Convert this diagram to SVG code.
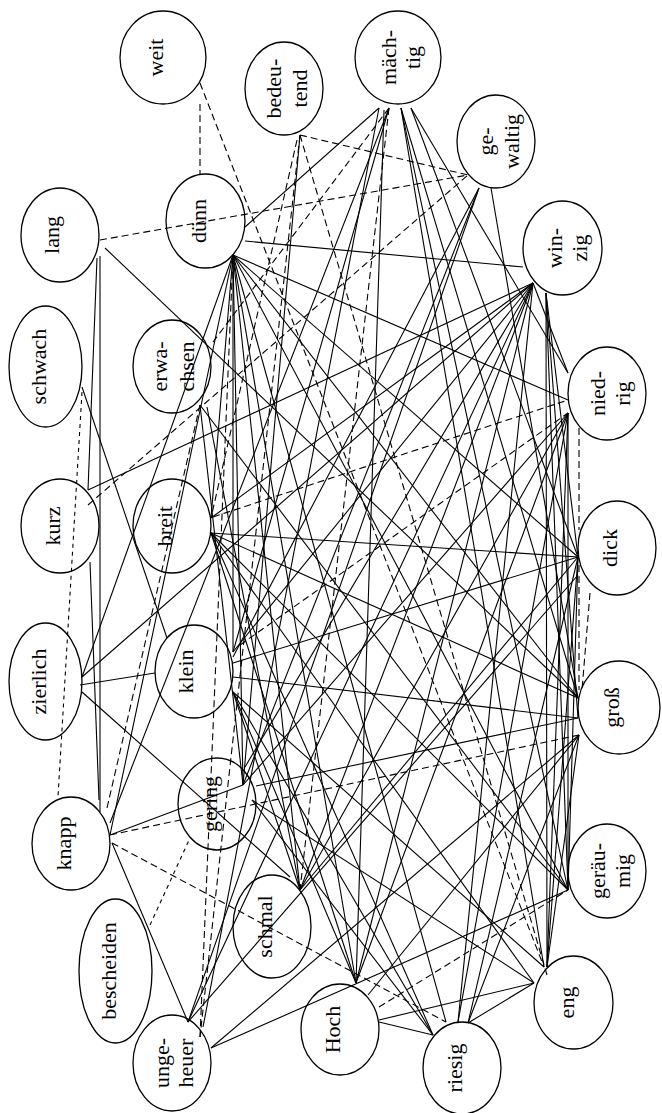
<svg xmlns="http://www.w3.org/2000/svg" width="662" height="1113" viewBox="0 0 662 1113">
<style>
.n{fill:none;stroke:#000;stroke-width:1.3}
.t{font-family:"Liberation Serif","Times New Roman",serif;font-size:22px;fill:#000;text-anchor:middle}
.s{stroke:#000;stroke-width:1.1;fill:none}
.d{stroke:#000;stroke-width:1.1;fill:none;stroke-dasharray:7,4}
.o{stroke:#000;stroke-width:1.1;fill:none;stroke-dasharray:4,4}
</style>
<rect width="662" height="1113" fill="#fff"/>
<g id="edges">
<line class="d" x1="200" y1="104" x2="200" y2="174"/>
<line class="d" x1="200" y1="83" x2="544" y2="967"/>
<line class="d" x1="300" y1="135" x2="468" y2="175"/>
<line class="d" x1="100" y1="240" x2="468" y2="175"/>
<line class="d" x1="88" y1="505" x2="468" y2="175"/>
<line class="d" x1="389" y1="108" x2="213" y2="342"/>
<line class="o" x1="82" y1="392" x2="58" y2="797"/>
<line class="d" x1="300" y1="135" x2="200" y2="1037"/>
<line class="d" x1="297" y1="140" x2="211" y2="518"/>
<line class="d" x1="213" y1="517" x2="568" y2="400"/>
<line class="d" x1="240" y1="645" x2="568" y2="413"/>
<line class="d" x1="579" y1="428" x2="579" y2="530"/>
<line class="d" x1="579" y1="565" x2="579" y2="690"/>
<line class="d" x1="590" y1="593" x2="582" y2="690"/>
<line class="d" x1="110" y1="835" x2="579" y2="735"/>
<line class="o" x1="150" y1="925" x2="190" y2="838"/>
<line class="d" x1="379" y1="1007" x2="568" y2="890"/>
<line class="d" x1="389" y1="108" x2="300" y2="890"/>
<line class="d" x1="107" y1="808" x2="200" y2="405"/>
<line class="d" x1="112" y1="843" x2="446" y2="1022"/>
<line class="d" x1="200" y1="1037" x2="233" y2="255"/>
<line class="d" x1="300" y1="135" x2="547" y2="975"/>

<line class="s" x1="100" y1="256" x2="100" y2="812"/>
<line class="s" x1="97" y1="258" x2="88" y2="490"/>
<line class="s" x1="90" y1="562" x2="99" y2="800"/>
<line class="s" x1="105" y1="248" x2="578" y2="698"/>
<line class="s" x1="82" y1="387" x2="167" y2="638"/>
<line class="s" x1="80" y1="685" x2="155" y2="673"/>
<line class="s" x1="82" y1="677" x2="233" y2="255"/>
<line class="s" x1="82" y1="677" x2="533" y2="283"/>
<line class="s" x1="82" y1="692" x2="290" y2="877"/>
<line class="s" x1="110" y1="835" x2="243" y2="785"/>
<line class="s" x1="112" y1="843" x2="188" y2="1022"/>
<line class="s" x1="110" y1="823" x2="389" y2="108"/>
<line class="s" x1="88" y1="490" x2="533" y2="283"/>

<line class="s" x1="379" y1="108" x2="245" y2="227"/>
<line class="s" x1="245" y1="241" x2="523" y2="267"/>
<line class="s" x1="300" y1="135" x2="243" y2="785"/>

<line class="s" x1="389" y1="108" x2="233" y2="652"/>
<line class="s" x1="384" y1="110" x2="356" y2="983"/>
<line class="s" x1="401" y1="108" x2="544" y2="967"/>
<line class="s" x1="401" y1="108" x2="568" y2="890"/>
<line class="s" x1="401" y1="108" x2="578" y2="698"/>
<line class="s" x1="411" y1="108" x2="578" y2="557"/>
<line class="s" x1="411" y1="108" x2="568" y2="373"/>
<line class="s" x1="379" y1="108" x2="203" y2="1027"/>

<line class="s" x1="479" y1="188" x2="233" y2="657"/>
<line class="s" x1="479" y1="188" x2="243" y2="785"/>
<line class="s" x1="479" y1="188" x2="188" y2="1022"/>
<line class="s" x1="491" y1="188" x2="578" y2="698"/>

<line class="s" x1="533" y1="283" x2="211" y2="518"/>
<line class="s" x1="533" y1="283" x2="233" y2="652"/>
<line class="s" x1="533" y1="283" x2="245" y2="767"/>
<line class="s" x1="533" y1="283" x2="188" y2="1022"/>
<line class="s" x1="533" y1="283" x2="300" y2="890"/>
<line class="s" x1="533" y1="283" x2="356" y2="983"/>
<line class="s" x1="533" y1="283" x2="458" y2="1022"/>
<line class="s" x1="533" y1="283" x2="568" y2="373"/>
<line class="s" x1="546" y1="293" x2="547" y2="967"/>
<line class="s" x1="546" y1="293" x2="568" y2="890"/>
<line class="s" x1="546" y1="293" x2="578" y2="718"/>
<line class="s" x1="546" y1="293" x2="578" y2="557"/>

<line class="s" x1="200" y1="405" x2="568" y2="890"/>
<line class="s" x1="200" y1="405" x2="243" y2="785"/>
<line class="s" x1="207" y1="407" x2="300" y2="890"/>

<line class="s" x1="233" y1="255" x2="110" y2="835"/>
<line class="s" x1="233" y1="255" x2="211" y2="518"/>
<line class="s" x1="233" y1="255" x2="233" y2="652"/>
<line class="s" x1="233" y1="255" x2="243" y2="785"/>
<line class="s" x1="233" y1="255" x2="300" y2="890"/>
<line class="s" x1="233" y1="255" x2="356" y2="983"/>
<line class="s" x1="233" y1="255" x2="446" y2="1022"/>
<line class="s" x1="233" y1="255" x2="568" y2="890"/>
<line class="s" x1="233" y1="255" x2="578" y2="698"/>
<line class="s" x1="233" y1="255" x2="578" y2="557"/>
<line class="s" x1="233" y1="255" x2="568" y2="400"/>

<line class="s" x1="211" y1="533" x2="578" y2="557"/>
<line class="s" x1="211" y1="533" x2="578" y2="698"/>
<line class="s" x1="211" y1="533" x2="534" y2="983"/>
<line class="s" x1="211" y1="533" x2="433" y2="1035"/>
<line class="s" x1="211" y1="533" x2="356" y2="983"/>
<line class="s" x1="211" y1="533" x2="568" y2="890"/>

<line class="s" x1="233" y1="663" x2="578" y2="557"/>
<line class="s" x1="233" y1="677" x2="578" y2="718"/>
<line class="s" x1="233" y1="692" x2="300" y2="890"/>
<line class="s" x1="233" y1="692" x2="356" y2="983"/>
<line class="s" x1="233" y1="692" x2="433" y2="1035"/>
<line class="s" x1="233" y1="692" x2="544" y2="967"/>

<line class="s" x1="256" y1="786" x2="578" y2="718"/>
<line class="s" x1="243" y1="785" x2="568" y2="413"/>
<line class="s" x1="252" y1="800" x2="433" y2="1035"/>
<line class="s" x1="252" y1="800" x2="534" y2="983"/>

<line class="s" x1="300" y1="890" x2="568" y2="413"/>
<line class="s" x1="300" y1="890" x2="578" y2="557"/>

<line class="s" x1="379" y1="1020" x2="534" y2="983"/>
<line class="s" x1="379" y1="1022" x2="433" y2="1035"/>
<line class="s" x1="368" y1="995" x2="579" y2="735"/>
<line class="s" x1="356" y1="983" x2="568" y2="413"/>

<line class="s" x1="458" y1="1022" x2="568" y2="413"/>
<line class="s" x1="468" y1="1023" x2="578" y2="557"/>
<line class="s" x1="468" y1="1023" x2="579" y2="735"/>
<line class="s" x1="468" y1="1023" x2="534" y2="983"/>

<line class="s" x1="211" y1="1048" x2="579" y2="735"/>
<line class="s" x1="211" y1="1048" x2="568" y2="890"/>
<line class="s" x1="188" y1="1022" x2="578" y2="575"/>

<line class="s" x1="547" y1="967" x2="568" y2="413"/>
<line class="s" x1="547" y1="967" x2="578" y2="557"/>
<line class="s" x1="547" y1="967" x2="579" y2="735"/>
<line class="s" x1="568" y1="890" x2="578" y2="557"/>
<line class="s" x1="568" y1="890" x2="568" y2="413"/>
</g>
<g id="n-weit"><ellipse class="n" cx="163" cy="57.5" rx="43" ry="46.5"/><text class="t" transform="translate(163,57.5) rotate(-90)">weit</text></g>
<g id="n-bedeutend"><ellipse class="n" cx="284" cy="88.5" rx="39" ry="46.5"/><text class="t" transform="translate(281,88.5) rotate(-90)">bedeu-</text><text class="t" transform="translate(307,88.5) rotate(-90)">tend</text></g>
<g id="n-maechtig"><ellipse class="n" cx="398" cy="57.5" rx="43" ry="46.5"/><text class="t" transform="translate(396,57.5) rotate(-90)">mäch-</text><text class="t" transform="translate(420,57.5) rotate(-90)">tig</text></g>
<g id="n-gewaltig"><ellipse class="n" cx="496" cy="141.5" rx="39" ry="46.5"/><text class="t" transform="translate(493,141.5) rotate(-90)">ge-</text><text class="t" transform="translate(519,141.5) rotate(-90)">waltig</text></g>
<g id="n-duenn"><ellipse class="n" cx="205.5" cy="221" rx="39.5" ry="47"/><text class="t" transform="translate(205.5,221) rotate(-90)">dünn</text></g>
<g id="n-lang"><ellipse class="n" cx="60" cy="235" rx="39" ry="47"/><text class="t" transform="translate(59,235) rotate(-90)">lang</text></g>
<g id="n-winzig"><ellipse class="n" cx="562.5" cy="248" rx="39.5" ry="47"/><text class="t" transform="translate(562,248) rotate(-90)">win-</text><text class="t" transform="translate(587,248) rotate(-90)">zig</text></g>
<g id="n-schwach"><ellipse class="n" cx="45.5" cy="366.5" rx="36.5" ry="60.5"/><text class="t" transform="translate(46,366.5) rotate(-90)">schwach</text></g>
<g id="n-erwachsen"><ellipse class="n" cx="172" cy="366.5" rx="39" ry="46.5"/><text class="t" transform="translate(167,366.5) rotate(-90)">erwa-</text><text class="t" transform="translate(194,366.5) rotate(-90)">chsen</text></g>
<g id="n-niedrig"><ellipse class="n" cx="607" cy="393.5" rx="39" ry="46.5"/><text class="t" transform="translate(605,393.5) rotate(-90)">nied-</text><text class="t" transform="translate(630,393.5) rotate(-90)">rig</text></g>
<g id="n-kurz"><ellipse class="n" cx="60" cy="526" rx="39" ry="47"/><text class="t" transform="translate(60,526) rotate(-90)">kurz</text></g>
<g id="n-breit"><ellipse class="n" cx="172" cy="526" rx="39" ry="47"/><text class="t" transform="translate(172,526) rotate(-90)">breit</text></g>
<g id="n-dick"><ellipse class="n" cx="617" cy="548" rx="39" ry="47"/><text class="t" transform="translate(617,548) rotate(-90)">dick</text></g>
<g id="n-zierlich"><ellipse class="n" cx="45.5" cy="681.5" rx="36.5" ry="58.5"/><text class="t" transform="translate(46,681.5) rotate(-90)">zierlich</text></g>
<g id="n-klein"><ellipse class="n" cx="194" cy="671.5" rx="39" ry="46.5"/><text class="t" transform="translate(193,671.5) rotate(-90)">klein</text></g>
<g id="n-gross"><ellipse class="n" cx="619" cy="707.5" rx="41" ry="46.5"/><text class="t" transform="translate(619,707.5) rotate(-90)">groß</text></g>
<g id="n-gering"><ellipse class="n" cx="217" cy="804" rx="39" ry="46"/><text class="t" transform="translate(217,804) rotate(-90)">gering</text></g>
<g id="n-knapp"><ellipse class="n" cx="71" cy="843.5" rx="39" ry="46.5"/><text class="t" transform="translate(71,843.5) rotate(-90)">knapp</text></g>
<g id="n-geraeumig"><ellipse class="n" cx="607" cy="871" rx="39" ry="47"/><text class="t" transform="translate(605,871) rotate(-90)">geräu-</text><text class="t" transform="translate(630,871) rotate(-90)">mig</text></g>
<g id="n-schmal"><ellipse class="n" cx="272" cy="926.5" rx="39" ry="51.5"/><text class="t" transform="translate(272,926.5) rotate(-90)">schmal</text></g>
<g id="n-bescheiden"><ellipse class="n" cx="115.5" cy="971" rx="36.5" ry="72"/><text class="t" transform="translate(115.5,971) rotate(-90)">bescheiden</text></g>
<g id="n-hoch"><ellipse class="n" cx="340" cy="1029.5" rx="39" ry="45.5"/><text class="t" transform="translate(340,1029.5) rotate(-90)">Hoch</text></g>
<g id="n-ungeheuer"><ellipse class="n" cx="172" cy="1063" rx="39" ry="48"/><text class="t" transform="translate(169,1063) rotate(-90)">unge-</text><text class="t" transform="translate(193,1063) rotate(-90)">heuer</text></g>
<g id="n-riesig"><ellipse class="n" cx="462" cy="1068" rx="39" ry="46"/><text class="t" transform="translate(462,1068) rotate(-90)">riesig</text></g>
<g id="n-eng"><ellipse class="n" cx="573.5" cy="1002.5" rx="39.5" ry="46.5"/><text class="t" transform="translate(573.5,1002.5) rotate(-90)">eng</text></g>
</svg>
